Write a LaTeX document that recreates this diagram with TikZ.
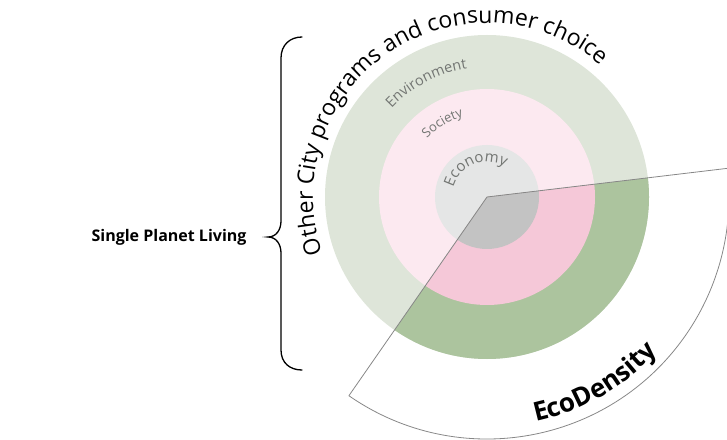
\documentclass[tikz,border=0pt]{standalone}
\usepackage{fontspec}
\setmainfont{Open Sans}
\usetikzlibrary{decorations.text}

\definecolor{envlight}{RGB}{222,229,217}
\definecolor{envdark}{RGB}{172,196,158}
\definecolor{soclight}{RGB}{252,233,240}
\definecolor{socdark}{RGB}{245,200,216}
\definecolor{ecolight}{RGB}{229,230,230}
\definecolor{ecodark}{RGB}{195,195,195}
\definecolor{ringtext}{RGB}{115,118,115}
\definecolor{wedgegray}{RGB}{135,135,135}

\tikzset{
  wedgeline/.style={draw=wedgegray, line width=0.8pt, line join=round},
  bracestyle/.style={draw=black, line width=1.3pt, line cap=round},
  arclabel/.style={decorate, decoration={text along path, text align=center, #1}},
}

\begin{document}
\begin{tikzpicture}[x=1pt,y=1pt]
\useasboundingbox (0,0) rectangle (727,439);
\coordinate (C) at (487,242);

% nested circles: environment, society, economy
\fill[envlight] (C) circle[radius=162];
\fill[soclight] (C) circle[radius=108];
\fill[ecolight] (C) circle[radius=52];

% the EcoDensity sector shows the circles in darker tones
\begin{scope}
  \clip (C) -- ([shift={(235.2:320)}]C) arc[start angle=235.2, end angle=366.8, radius=320] -- cycle;
  \fill[envdark] (C) circle[radius=162];
  \fill[socdark] (C) circle[radius=108];
  \fill[ecodark] (C) circle[radius=52];
\end{scope}

% sector outline
\coordinate (wl) at ([shift={(235.2:242)}]C);
\draw[wedgeline] (C) -- (wl) arc[start angle=235.2, end angle=366.8, radius=242] -- cycle;

% curved labels
\path[arclabel={text color=black, text={|\fontsize{23}{23}\selectfont|Other City programs and consumer choice}}]
  ([shift={(214:174)}]C) arc[start angle=214, end angle=34, radius=174];
\path[arclabel={text color=ringtext, text={|\fontsize{14.5}{14.5}\selectfont|Environment}}]
  ([shift={(205:130)}]C) arc[start angle=205, end angle=31, radius=130];
\path[arclabel={text color=ringtext, text={|\fontsize{13}{13}\selectfont|Society}}]
  ([shift={(205:84)}]C) arc[start angle=205, end angle=37, radius=84];
\path[arclabel={text color=ringtext, text={|\fontsize{15}{15}\selectfont|Economy}}]
  ([shift={(210:35)}]C) arc[start angle=210, end angle=14, radius=35];
\path[arclabel={text color=black, text={|\fontsize{26}{26}\bfseries\selectfont|EcoDensity}}]
  ([shift={(-130:230)}]C) arc[start angle=-130, end angle=10, radius=230];

% brace and its label
\coordinate (bt) at (302,402);
\coordinate (btip) at (268,202);
\coordinate (bb) at (302,69);
\draw[bracestyle] (bt) .. controls (290,402) and (281,394) .. (281,381) -- (281,218)
  .. controls (281,209) and (276,202) .. (btip)
  .. controls (276,202) and (281,195) .. (281,186) -- (281,89)
  .. controls (281,76) and (290,69) .. (bb);
\node[anchor=east, font=\bfseries\fontsize{16}{16}\selectfont] (spl) at (250,202) {Single Planet Living};
\end{tikzpicture}
\end{document}
